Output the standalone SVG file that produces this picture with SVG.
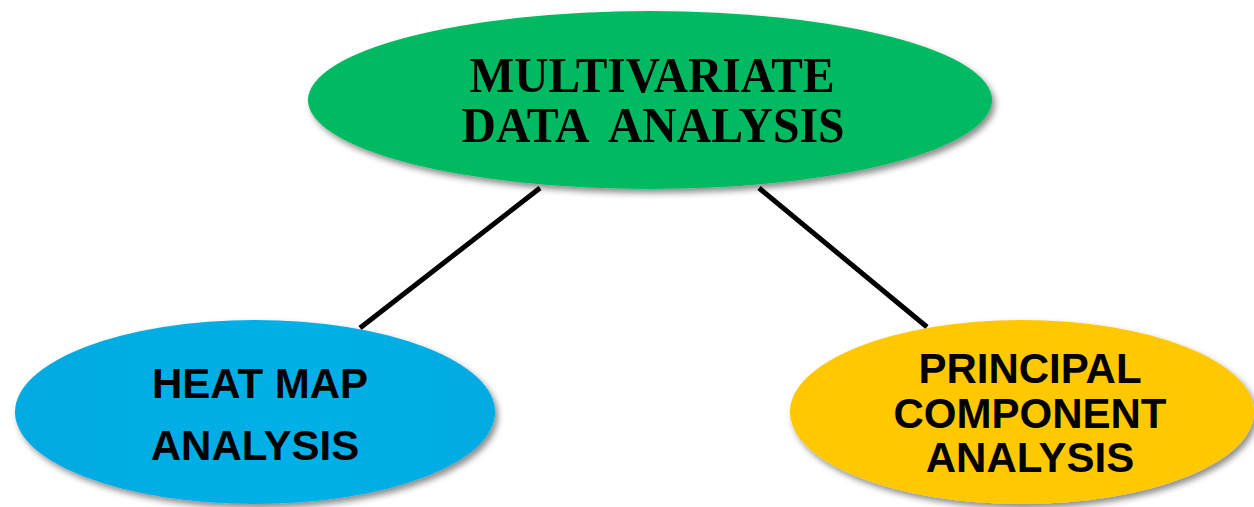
<svg xmlns="http://www.w3.org/2000/svg" width="1254" height="507" viewBox="0 0 1254 507">
  <defs>
    <filter id="shadow" x="-10%" y="-10%" width="125%" height="130%">
      <feDropShadow dx="3" dy="4" stdDeviation="3" flood-color="#000" flood-opacity="0.45"/>
    </filter>
    <linearGradient id="blueGrad" x1="0" y1="0" x2="1" y2="0">
      <stop offset="0" stop-color="#00AAE2"/>
      <stop offset="0.6" stop-color="#05B0E6"/>
      <stop offset="1" stop-color="#00ABE2"/>
    </linearGradient>
  </defs>
  <style>
    .serif { font-family: "Liberation Serif", "Times New Roman", serif; font-weight: bold; fill: #000; }
    .sans { font-family: "Liberation Sans", Arial, sans-serif; font-weight: bold; font-size: 42px; fill: #000; }
    .conn { stroke: #000; stroke-width: 5; fill: none; }
  </style>
  <rect width="1254" height="507" fill="#fff"/>
  <g id="connectors">
    <line class="conn" x1="540" y1="188" x2="360" y2="328"/>
    <line class="conn" x1="759" y1="188" x2="927" y2="327"/>
  </g>
  <g id="node-multivariate">
    <ellipse cx="650" cy="100" rx="342" ry="89" fill="#00BA62" filter="url(#shadow)"/>
    <text class="serif" x="652" y="92" font-size="50" text-anchor="middle" textLength="365" lengthAdjust="spacingAndGlyphs">MULTIVARIATE</text>
    <text class="serif" x="653" y="142" font-size="50" text-anchor="middle" textLength="383" lengthAdjust="spacingAndGlyphs" xml:space="preserve" style="white-space:pre">DATA  ANALYSIS</text>
  </g>
  <g id="node-heatmap">
    <ellipse cx="255" cy="412" rx="240" ry="92" fill="url(#blueGrad)" filter="url(#shadow)"/>
    <text class="sans" x="260" y="398" text-anchor="middle">HEAT MAP</text>
    <text class="sans" x="255" y="460" text-anchor="middle">ANALYSIS</text>
  </g>
  <g id="node-pca">
    <ellipse cx="1022" cy="412" rx="232" ry="92" fill="#FFC800" filter="url(#shadow)"/>
    <text class="sans" x="1030" y="383" text-anchor="middle">PRINCIPAL</text>
    <text class="sans" x="1030" y="428" text-anchor="middle">COMPONENT</text>
    <text class="sans" x="1030" y="472" text-anchor="middle">ANALYSIS</text>
  </g>
</svg>
